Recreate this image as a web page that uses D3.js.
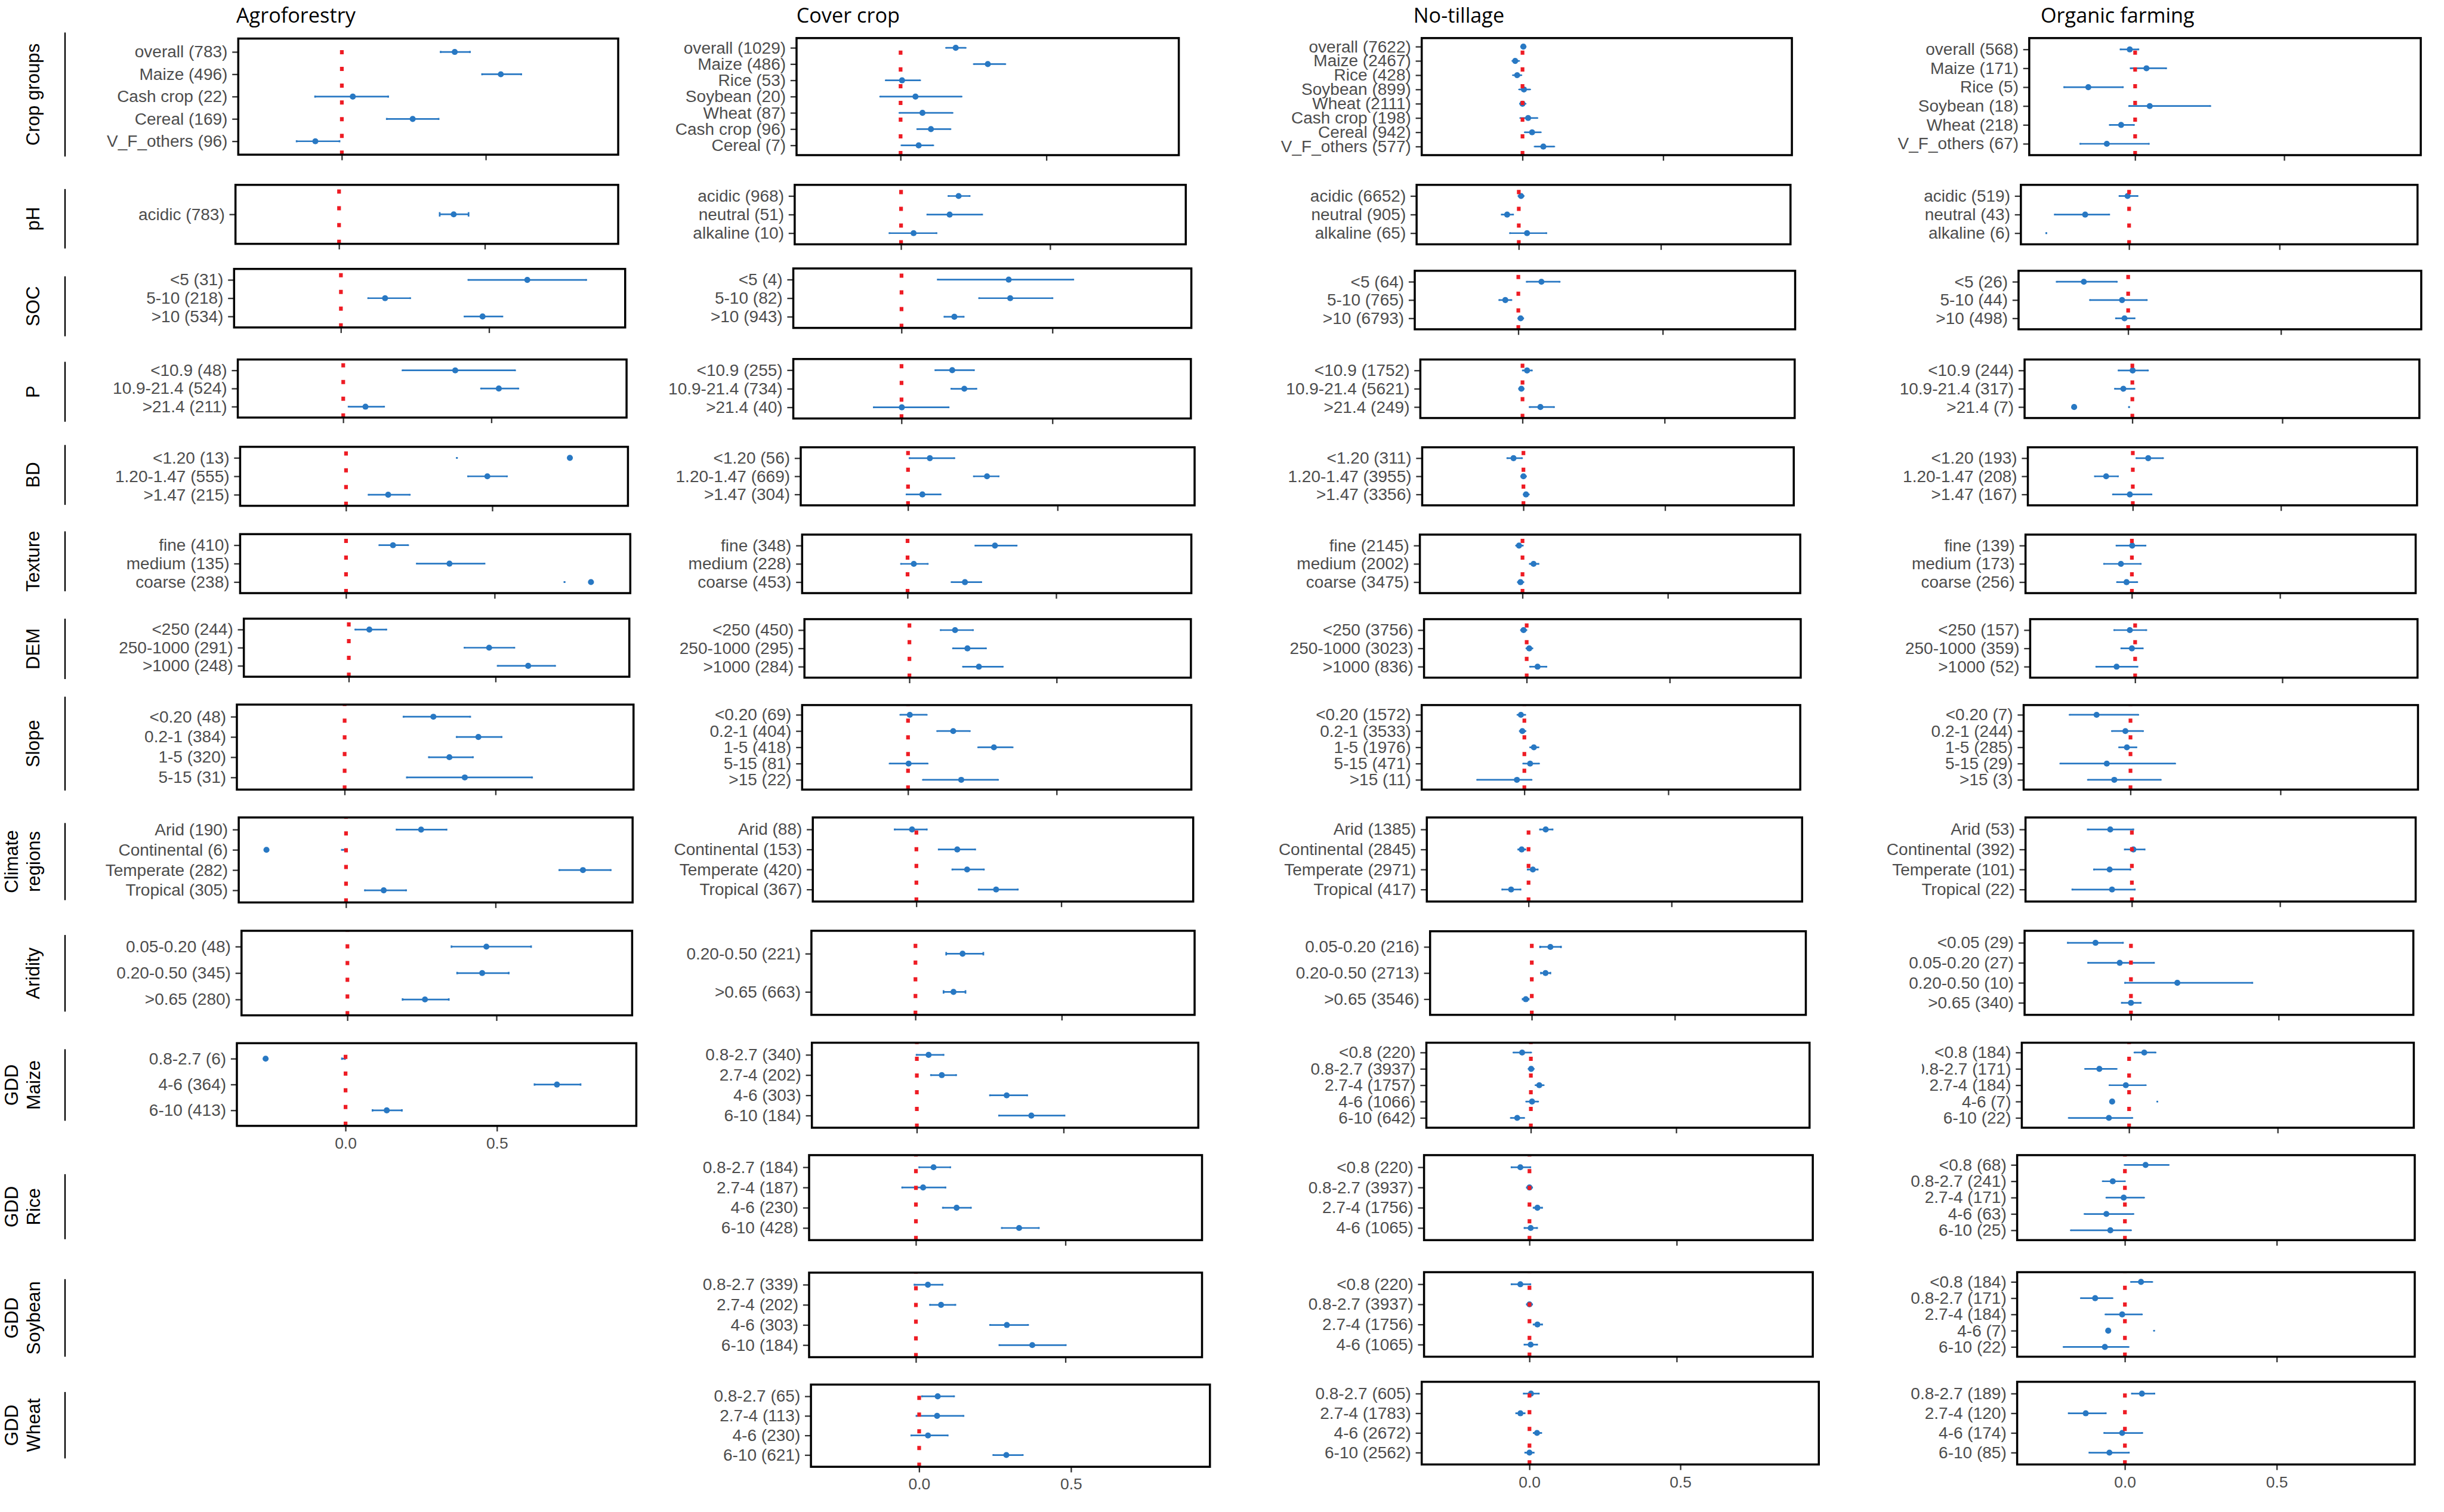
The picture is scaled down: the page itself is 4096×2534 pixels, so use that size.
<!DOCTYPE html>
<html><head><meta charset="utf-8">
<script src="https://cdn.jsdelivr.net/npm/d3@7"></script>
<style>html,body{margin:0;padding:0;background:#fff;}svg{display:block;}</style>
</head><body>
<svg id="chart" width="4096" height="2534"></svg>
<script>
// ---------------- DATA: [label, mean, lower CI, upper CI] ----------------
const colTitles = ["Agroforestry", "Cover crop", "No-tillage", "Organic farming"];
const facetNames = [["Crop groups"], ["pH"], ["SOC"], ["P"], ["BD"], ["Texture"], ["DEM"], ["Slope"],
  ["Climate", "regions"], ["Aridity"], ["GDD", "Maize"], ["GDD", "Rice"], ["GDD", "Soybean"], ["GDD", "Wheat"]];
const axisTicks = [0, 0.5];

// Agroforestry
const agroCrop = [["overall (783)", 0.392, 0.343, 0.445], ["Maize (496)", 0.552, 0.487, 0.623], ["Cash crop (22)", 0.038, -0.093, 0.161], ["Cereal (169)", 0.246, 0.156, 0.336], ["V_F_others (96)", -0.092, -0.157, -0.008]];
const agroPH = [["acidic (783)", 0.393, 0.345, 0.444]];
const agroSOC = [["<5 (31)", 0.629, 0.430, 0.828], ["5-10 (218)", 0.149, 0.092, 0.234], [">10 (534)", 0.478, 0.417, 0.545]];
const agroP = [["<10.9 (48)", 0.378, 0.200, 0.580], ["10.9-21.4 (524)", 0.525, 0.465, 0.591], [">21.4 (211)", 0.075, 0.018, 0.138]];
const agroBD = [["<1.20 (13)", 0.765, 0.379, 0.379], ["1.20-1.47 (555)", 0.483, 0.417, 0.550], [">1.47 (215)", 0.144, 0.077, 0.218]];
const agroTex = [["fine (410)", 0.158, 0.112, 0.209], ["medium (135)", 0.348, 0.238, 0.466], ["coarse (238)", 0.824, 0.735, 0.735]];
const agroDEM = [["<250 (244)", 0.070, 0.022, 0.128], ["250-1000 (291)", 0.478, 0.394, 0.564], [">1000 (248)", 0.611, 0.507, 0.703]];
const agroSlope = [["<0.20 (48)", 0.294, 0.195, 0.416], ["0.2-1 (384)", 0.443, 0.371, 0.520], ["1-5 (320)", 0.347, 0.279, 0.425], ["5-15 (31)", 0.398, 0.206, 0.621]];
const agroClim = [["Arid (190)", 0.251, 0.169, 0.336], ["Continental (6)", -0.266, -0.014, -0.005], ["Temperate (282)", 0.792, 0.713, 0.885], ["Tropical (305)", 0.126, 0.063, 0.201]];
const agroArid = [["0.05-0.20 (48)", 0.466, 0.349, 0.616], ["0.20-0.50 (345)", 0.452, 0.368, 0.541], [">0.65 (280)", 0.260, 0.185, 0.340]];
const agroMaize = [["0.8-2.7 (6)", -0.264, -0.012, -0.002], ["4-6 (364)", 0.698, 0.624, 0.776], ["6-10 (413)", 0.136, 0.089, 0.186]];

// Cover crop
const coverCrop = [["overall (1029)", 0.189, 0.156, 0.223], ["Maize (486)", 0.299, 0.251, 0.359], ["Rice (53)", 0.005, -0.051, 0.067], ["Soybean (20)", 0.051, -0.070, 0.209], ["Wheat (87)", 0.075, -0.004, 0.178], ["Cash crop (96)", 0.104, 0.057, 0.171], ["Cereal (7)", 0.062, 0.003, 0.112]];
const coverPH = [["acidic (968)", 0.193, 0.159, 0.230], ["neutral (51)", 0.163, 0.088, 0.272], ["alkaline (10)", 0.042, -0.039, 0.119]];
const coverSOC = [["<5 (4)", 0.355, 0.120, 0.569], ["5-10 (82)", 0.360, 0.257, 0.500], [">10 (943)", 0.175, 0.142, 0.206]];
const coverP = [["<10.9 (255)", 0.168, 0.112, 0.240], ["10.9-21.4 (734)", 0.208, 0.165, 0.248], [">21.4 (40)", 0.001, -0.092, 0.156]];
const coverBD = [["<1.20 (56)", 0.073, 0.005, 0.155], ["1.20-1.47 (669)", 0.264, 0.220, 0.303], [">1.47 (304)", 0.048, -0.005, 0.109]];
const coverTex = [["fine (348)", 0.294, 0.228, 0.367], ["medium (228)", 0.021, -0.022, 0.068], ["coarse (453)", 0.193, 0.148, 0.248]];
const coverDEM = [["<250 (450)", 0.155, 0.106, 0.216], ["250-1000 (295)", 0.197, 0.148, 0.260], [">1000 (284)", 0.236, 0.182, 0.317]];
const coverSlope = [["<0.20 (69)", 0.006, -0.026, 0.063], ["0.2-1 (404)", 0.152, 0.098, 0.208], ["1-5 (418)", 0.289, 0.236, 0.352], ["5-15 (81)", 0.002, -0.062, 0.066], [">15 (22)", 0.179, 0.050, 0.303]];
const coverClim = [["Arid (88)", -0.015, -0.075, 0.036], ["Continental (153)", 0.141, 0.077, 0.203], ["Temperate (420)", 0.175, 0.124, 0.233], ["Tropical (367)", 0.275, 0.215, 0.350]];
const coverArid = [["0.20-0.50 (221)", 0.161, 0.105, 0.232], [">0.65 (663)", 0.130, 0.096, 0.171]];
const coverMaize = [["0.8-2.7 (340)", 0.040, -0.001, 0.091], ["2.7-4 (202)", 0.085, 0.048, 0.134], ["4-6 (303)", 0.306, 0.249, 0.376], ["6-10 (184)", 0.390, 0.280, 0.503]];
const coverRice = [["0.8-2.7 (184)", 0.059, 0.011, 0.115], ["2.7-4 (187)", 0.024, -0.046, 0.099], ["4-6 (230)", 0.136, 0.090, 0.184], ["6-10 (428)", 0.345, 0.287, 0.411]];
const coverSoy = [["0.8-2.7 (339)", 0.040, -0.005, 0.089], ["2.7-4 (202)", 0.084, 0.047, 0.132], ["4-6 (303)", 0.304, 0.248, 0.375], ["6-10 (184)", 0.389, 0.279, 0.501]];
const coverWheat = [["0.8-2.7 (65)", 0.061, 0.009, 0.115], ["2.7-4 (113)", 0.059, -0.009, 0.146], ["4-6 (230)", 0.029, -0.026, 0.094], ["6-10 (621)", 0.287, 0.244, 0.341]];

// No-tillage
const ntCrop = [["overall (7622)", 0.003, -0.005, 0.011], ["Maize (2467)", -0.026, -0.036, -0.012], ["Rice (428)", -0.019, -0.034, -0.004], ["Soybean (899)", 0.005, -0.012, 0.027], ["Wheat (2111)", 0.000, -0.009, 0.011], ["Cash crop (198)", 0.020, -0.008, 0.053], ["Cereal (942)", 0.034, 0.008, 0.065], ["V_F_others (577)", 0.074, 0.043, 0.113]];
const ntPH = [["acidic (6652)", 0.008, -0.001, 0.017], ["neutral (905)", -0.041, -0.060, -0.020], ["alkaline (65)", 0.029, -0.031, 0.097]];
const ntSOC = [["<5 (64)", 0.080, 0.029, 0.143], ["5-10 (765)", -0.045, -0.066, -0.024], [">10 (6793)", 0.008, 0.000, 0.017]];
const ntP = [["<10.9 (1752)", 0.016, 0.001, 0.033], ["10.9-21.4 (5621)", -0.004, -0.012, 0.004], [">21.4 (249)", 0.063, 0.025, 0.111]];
const ntBD = [["<1.20 (311)", -0.035, -0.057, -0.005], ["1.20-1.47 (3955)", 0.000, -0.008, 0.009], [">1.47 (3356)", 0.009, 0.001, 0.019]];
const ntTex = [["fine (2145)", -0.012, -0.022, 0.001], ["medium (2002)", 0.038, 0.025, 0.055], ["coarse (3475)", -0.007, -0.016, 0.003]];
const ntDEM = [["<250 (3756)", -0.011, -0.020, -0.001], ["250-1000 (3023)", 0.009, -0.001, 0.020], [">1000 (836)", 0.038, 0.012, 0.069]];
const ntSlope = [["<0.20 (1572)", -0.012, -0.024, 0.003], ["0.2-1 (3533)", -0.007, -0.016, 0.004], ["1-5 (1976)", 0.033, 0.020, 0.049], ["5-15 (471)", 0.020, -0.004, 0.051], [">15 (11)", -0.026, -0.164, 0.025]];
const ntClim = [["Arid (1385)", 0.060, 0.040, 0.084], ["Continental (2845)", -0.024, -0.036, -0.011], ["Temperate (2971)", 0.015, -0.003, 0.032], ["Tropical (417)", -0.061, -0.092, -0.028]];
const ntArid = [["0.05-0.20 (216)", 0.065, 0.029, 0.102], ["0.20-0.50 (2713)", 0.048, 0.032, 0.065], [">0.65 (3546)", -0.021, -0.032, -0.011]];
const ntMaize = [["<0.8 (220)", -0.030, -0.060, 0.001], ["0.8-2.7 (3937)", 0.001, -0.008, 0.010], ["2.7-4 (1757)", 0.029, 0.016, 0.044], ["4-6 (1066)", 0.004, -0.016, 0.025], ["6-10 (642)", -0.047, -0.069, -0.023]];
const ntRice = [["<0.8 (220)", -0.031, -0.061, 0.003], ["0.8-2.7 (3937)", 0.000, -0.009, 0.009], ["2.7-4 (1756)", 0.027, 0.014, 0.043], ["4-6 (1065)", 0.004, -0.017, 0.026]];
const ntSoy = [["<0.8 (220)", -0.031, -0.061, 0.003], ["0.8-2.7 (3937)", 0.000, -0.009, 0.009], ["2.7-4 (1756)", 0.027, 0.014, 0.043], ["4-6 (1065)", 0.004, -0.017, 0.026]];
const ntWheat = [["0.8-2.7 (605)", 0.005, -0.019, 0.031], ["2.7-4 (1783)", -0.030, -0.044, -0.016], ["4-6 (2672)", 0.025, 0.014, 0.039], ["6-10 (2562)", 0.000, -0.014, 0.014]];

// Organic farming
const orgCrop = [["overall (568)", -0.018, -0.049, 0.011], ["Maize (171)", 0.038, -0.015, 0.104], ["Rice (5)", -0.157, -0.238, -0.041], ["Soybean (18)", 0.049, -0.020, 0.252], ["Wheat (218)", -0.047, -0.085, -0.004], ["V_F_others (67)", -0.095, -0.184, 0.046]];
const orgPH = [["acidic (519)", -0.005, -0.032, 0.028], ["neutral (43)", -0.146, -0.247, -0.066], ["alkaline (6)", null, -0.275, -0.275]];
const orgSOC = [["<5 (26)", -0.145, -0.234, -0.037], ["5-10 (44)", -0.020, -0.125, 0.061], [">10 (498)", -0.012, -0.040, 0.021]];
const orgP = [["<10.9 (244)", 0.001, -0.046, 0.052], ["10.9-21.4 (317)", -0.030, -0.058, 0.007], [">21.4 (7)", -0.194, -0.011, -0.011]];
const orgBD = [["<1.20 (193)", 0.052, 0.012, 0.102], ["1.20-1.47 (208)", -0.090, -0.128, -0.050], [">1.47 (167)", -0.010, -0.067, 0.063]];
const orgTex = [["fine (139)", 0.001, -0.052, 0.046], ["medium (173)", -0.037, -0.094, 0.030], ["coarse (256)", -0.018, -0.050, 0.018]];
const orgDEM = [["<250 (157)", -0.018, -0.071, 0.038], ["250-1000 (359)", -0.011, -0.047, 0.026], [">1000 (52)", -0.063, -0.132, 0.008]];
const orgSlope = [["<0.20 (7)", -0.113, -0.203, 0.026], ["0.2-1 (244)", -0.017, -0.062, 0.042], ["1-5 (285)", -0.012, -0.038, 0.020], ["5-15 (29)", -0.079, -0.234, 0.149], [">15 (3)", -0.054, -0.142, 0.101]];
const orgClim = [["Arid (53)", -0.073, -0.149, 0.005], ["Continental (392)", 0.005, -0.024, 0.043], ["Temperate (101)", -0.075, -0.128, -0.005], ["Tropical (22)", -0.067, -0.201, 0.010]];
const orgArid = [["<0.05 (29)", -0.120, -0.214, -0.027], ["0.05-0.20 (27)", -0.038, -0.145, 0.078], ["0.20-0.50 (10)", 0.157, -0.020, 0.411], [">0.65 (340)", 0.000, -0.031, 0.033]];
const orgMaize = [["<0.8 (184)", 0.051, 0.018, 0.089], ["0.8-2.7 (171)", -0.100, -0.148, -0.042], ["2.7-4 (184)", -0.011, -0.066, 0.056], ["4-6 (7)", -0.057, 0.095, 0.095], ["6-10 (22)", -0.068, -0.203, 0.011]];
const orgRice = [["<0.8 (68)", 0.068, -0.001, 0.144], ["0.8-2.7 (241)", -0.040, -0.073, 0.000], ["2.7-4 (171)", -0.004, -0.061, 0.063], ["4-6 (63)", -0.061, -0.133, 0.028], ["6-10 (25)", -0.048, -0.178, 0.020]];
const orgSoy = [["<0.8 (184)", 0.053, 0.020, 0.090], ["0.8-2.7 (171)", -0.098, -0.145, -0.041], ["2.7-4 (184)", -0.009, -0.064, 0.056], ["4-6 (7)", -0.055, 0.096, 0.096], ["6-10 (22)", -0.066, -0.202, 0.012]];
const orgWheat = [["0.8-2.7 (189)", 0.056, 0.023, 0.097], ["2.7-4 (120)", -0.129, -0.185, -0.063], ["4-6 (174)", -0.009, -0.068, 0.057], ["6-10 (85)", -0.051, -0.117, 0.013]];

const panelData = [
  [agroCrop, agroPH, agroSOC, agroP, agroBD, agroTex, agroDEM, agroSlope, agroClim, agroArid, agroMaize, null, null, null],
  [coverCrop, coverPH, coverSOC, coverP, coverBD, coverTex, coverDEM, coverSlope, coverClim, coverArid, coverMaize, coverRice, coverSoy, coverWheat],
  [ntCrop, ntPH, ntSOC, ntP, ntBD, ntTex, ntDEM, ntSlope, ntClim, ntArid, ntMaize, ntRice, ntSoy, ntWheat],
  [orgCrop, orgPH, orgSOC, orgP, orgBD, orgTex, orgDEM, orgSlope, orgClim, orgArid, orgMaize, orgRice, orgSoy, orgWheat]
];

// ---------------- LAYOUT (reference pixel space 5262 x 3255) ----------------
// panel: [left, right, top, bottom, x of 0, x of 0.5]
const panelGeom = [
  [[513,1331,83,333,736,1046],[507,1331,398,525,730,1044],[504,1346,579,705,734,1053],[512,1349,774,899,739,1058],
   [517,1352,962,1089,745,1060],[517,1357,1150,1277,745,1065],[525,1355,1332,1457,751,1067],[510,1364,1517,1700,742,1067],
   [514,1362,1760,1943,745,1067],[520,1361,2004,2186,748,1069],[510,1370,2246,2424,744,1070],null,null,null],
  [[1715,2538,82,334,1939,2253],[1711,2553,398,526,1940,2261],[1708,2565,578,706,1941,2266],[1708,2564,773,901,1941,2266],
   [1724,2572,963,1088,1955,2277],[1727,2565,1151,1277,1954,2274],[1732,2564,1333,1459,1958,2275],[1727,2565,1518,1700,1955,2275],
   [1750,2569,1760,1941,1973,2285],[1747,2572,2004,2185,1971,2286],[1748,2580,2245,2428,1974,2290],[1742,2588,2487,2670,1972,2294],
   [1742,2588,2740,2922,1972,2294],[1746,2605,2981,3158,1979,2306]],
  [[3061,3858,82,334,3278,3581],[3050,3855,398,526,3270,3576],[3046,3865,583,709,3269,3580],[3058,3864,774,900,3278,3584],
   [3062,3862,963,1088,3280,3585],[3057,3876,1151,1277,3278,3591],[3066,3877,1333,1459,3287,3595],[3061,3876,1518,1700,3282,3592],
   [3072,3880,1760,1941,3291,3599],[3079,3888,2005,2185,3298,3606],[3071,3896,2245,2428,3296,3609],[3066,3903,2487,2670,3293,3610],
   [3066,3903,2739,2921,3293,3610],[3061,3916,2975,3153,3293,3618]],
  [[4369,5212,82,334,4597,4918],[4351,5205,398,526,4584,4908],[4346,5213,583,709,4582,4911],[4359,5209,774,900,4591,4914],
   [4366,5204,963,1088,4592,4911],[4361,5201,1151,1277,4590,4909],[4371,5205,1333,1459,4597,4914],[4357,5206,1518,1700,4587,4910],
   [4361,5201,1760,1941,4590,4909],[4359,5196,2004,2185,4588,4906],[4353,5197,2245,2428,4584,4904],[4343,5199,2487,2670,4575,4902],
   [4343,5199,2739,2921,4575,4902],[4343,5199,2975,3153,4575,4902]]
];
const axisRow = [10, 13, 13, 13];            // panel index with x-axis labels
const titleX = [637, 1826, 3141, 4559];
const bracketY = [[70,337],[407,535],[595,724],[779,908],[958,1087],[1144,1273],[1332,1462],[1500,1702],
  [1772,1938],[2013,2178],[2259,2413],[2528,2668],[2754,2921],[2997,3140]];
const labelClip = {"3-10": 4138};

const BLUE = "#2878c3", RED = "#ee1c24";
const K = 4096 / 5262;

const svg = d3.select("#chart");
svg.append("rect").attr("width", 4096).attr("height", 2534).attr("fill", "#fff");
const defs = svg.append("defs");
const root = svg.append("g").attr("transform", `scale(${K})`);

// column titles
colTitles.forEach((t, i) => {
  root.append("text").attr("x", titleX[i]).attr("y", 49).attr("text-anchor", "middle")
    .attr("font-family", "'Open Sans', 'Noto Sans', sans-serif").attr("font-size", 44).attr("fill", "#000").text(t);
});

// facet labels + brackets (left)
facetNames.forEach((lines, i) => {
  const [a, b] = bracketY[i];
  root.append("line").attr("x1", 140).attr("x2", 140).attr("y1", a).attr("y2", b)
    .attr("stroke", "#000").attr("stroke-width", 3);
  const yc = (a + b) / 2;
  const xs = lines.length === 1 ? [85] : [38, 86];
  lines.forEach((ln, j) => {
    root.append("text").attr("transform", `translate(${xs[j]},${yc}) rotate(-90)`)
      .attr("text-anchor", "middle").attr("font-family", "'Liberation Sans', Arial, sans-serif")
      .attr("font-size", 40).attr("fill", "#000").text(ln);
  });
});

function drawPanel(data, geom, showLabels, clipLeft, id) {
  const [x0, x1, y0, y1, zx, hx] = geom;
  const x = d3.scaleLinear().domain([0, 0.5]).range([zx, hx]);
  const y = d3.scalePoint().domain(data.map(d => d[0])).range([y0, y1]).padding(0.6);
  const g = root.append("g");

  // y axis (optionally clipped on the left)
  const wrap = g.append("g");
  if (clipLeft) {
    const cid = "clip" + id;
    defs.append("clipPath").attr("id", cid).attr("clipPathUnits", "userSpaceOnUse")
      .append("rect").attr("x", clipLeft).attr("y", 0).attr("width", 6000).attr("height", 4000);
    wrap.attr("clip-path", `url(#${cid})`);
  }
  const ga = wrap.append("g").attr("transform", `translate(${x0},0)`)
    .call(d3.axisLeft(y).tickSize(13).tickPadding(10));
  ga.select(".domain").remove();
  ga.selectAll(".tick line").attr("stroke", "#333").attr("stroke-width", 3);
  ga.selectAll(".tick text").attr("font-family", "'Liberation Sans', Arial, sans-serif")
    .attr("font-size", 36).attr("fill", "#4d4d4d");

  // x axis (ticks, labels only on bottom panel)
  const xa = g.append("g").attr("transform", `translate(0,${y1})`)
    .call(d3.axisBottom(x).tickValues(axisTicks).tickSize(12).tickPadding(13)
      .tickFormat(showLabels ? d3.format(".1f") : () => ""));
  xa.select(".domain").remove();
  xa.selectAll(".tick line").attr("stroke", "#333").attr("stroke-width", 3);
  xa.selectAll(".tick text").attr("font-family", "'Liberation Sans', Arial, sans-serif")
    .attr("font-size", 34).attr("fill", "#4d4d4d");

  const step = y.step();
  // error bars
  g.selectAll(".eb").data(data).join("line").attr("class", "eb")
    .attr("x1", d => x(d[2])).attr("x2", d => x(d[3]))
    .attr("y1", d => y(d[0])).attr("y2", d => y(d[0]))
    .attr("stroke", BLUE).attr("stroke-width", 3.5);
  const caps = [];
  data.forEach(d => { caps.push([d[0], d[2]]); caps.push([d[0], d[3]]); });
  g.selectAll(".cap").data(caps).join("line").attr("class", "cap")
    .attr("x1", d => x(d[1])).attr("x2", d => x(d[1]))
    .attr("y1", d => y(d[0]) - step * 0.045).attr("y2", d => y(d[0]) + step * 0.045)
    .attr("stroke", BLUE).attr("stroke-width", 3.5);
  // points
  g.selectAll(".pt").data(data.filter(d => d[1] !== null)).join("circle").attr("class", "pt")
    .attr("cx", d => x(d[1])).attr("cy", d => y(d[0])).attr("r", 6.5).attr("fill", BLUE);

  // zero reference line
  g.append("line").attr("x1", x(0)).attr("x2", x(0)).attr("y1", y1).attr("y2", y0)
    .attr("stroke", RED).attr("stroke-width", 8).attr("stroke-dasharray", "9 27");

  // panel border
  g.append("rect").attr("x", x0).attr("y", y0).attr("width", x1 - x0).attr("height", y1 - y0)
    .attr("fill", "none").attr("stroke", "#000").attr("stroke-width", 4.5);
}

panelData.forEach((col, c) => {
  col.forEach((data, r) => {
    if (!data) return;
    drawPanel(data, panelGeom[c][r], r === axisRow[c], labelClip[c + "-" + r], c + "_" + r);
  });
});
</script>
</body></html>
